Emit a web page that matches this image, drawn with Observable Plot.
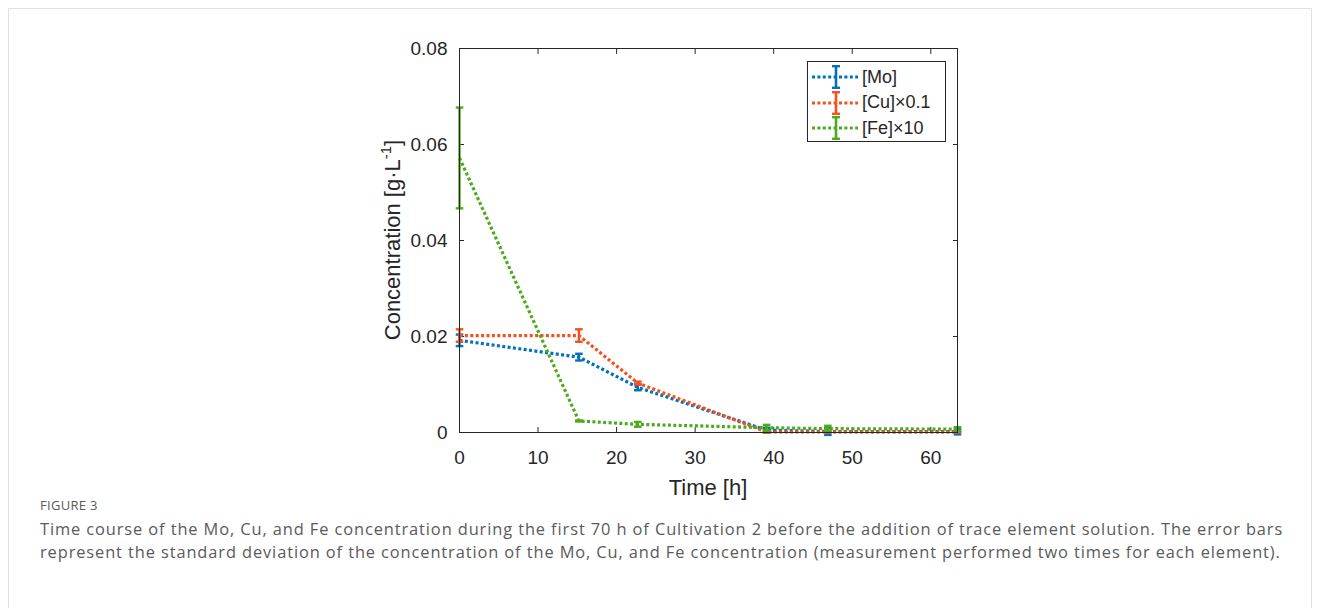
<!DOCTYPE html>
<html><head><meta charset="utf-8">
<script src="https://cdn.jsdelivr.net/npm/d3@7"></script>
<script src="https://cdn.jsdelivr.net/npm/@observablehq/plot@0.6"></script>
<style>
body{margin:0;background:#fff;font-family:"Liberation Sans",Arial,sans-serif;}
#wrap{position:relative;width:1319px;height:608px;overflow:hidden;background:#fff;}
#frame{position:absolute;left:8px;top:8px;width:1302px;height:660px;border:1px solid #e2e2e2;}
#chart{position:absolute;left:0;top:0;}
#legend{position:absolute;left:807px;top:61px;width:137px;height:79px;border:1px solid #262626;background:#fff;}
.lrow{position:absolute;left:0;height:26px;display:flex;align-items:center;}
.lrow svg{display:block;}
.lrow span{font-family:"Liberation Sans",Arial,sans-serif;font-size:18px;color:#262626;margin-left:2px;white-space:nowrap;}
#caption{position:absolute;left:40px;top:496px;width:1270px;color:#5a5a5a;font-family:"Open Sans",sans-serif;}
#caption .fig{font-size:13px;letter-spacing:0.3px;margin-bottom:4px;}
#caption .txt{font-size:16.4px;line-height:22.5px;letter-spacing:0.9px;white-space:nowrap;}
</style>
</head><body>
<div id="wrap">
<div id="frame"></div>
<div id="chart"></div>
<div id="legend"></div>
<div id="caption">
<div class="fig">FIGURE 3</div>
<div class="txt">Time course of the Mo, Cu, and Fe concentration during the first 70 h of Cultivation 2 before the addition of trace element solution. The error bars<br>represent the standard deviation of the concentration of the Mo, Cu, and Fe concentration (measurement performed two times for each element).</div>
</div>
</div>
<script>
// ---- data ----
const times = [0, 15.2, 22.7, 39.1, 46.9, 63.4];
const moVals = [0.0192, 0.0157, 0.0094, 0.0005, 0.0002, 0.0002];
const moErr  = [0.0012, 0.0007, 0.0006, 0.0005, 0.0007, 0.0006];
const cuVals = [0.0202, 0.0202, 0.0103, 0.0001, 0.0001, 0.0001];
const cuErr  = [0.0013, 0.0013, 0.0003, 0.0001, 0.0001, 0.0001];
const feVals = [0.0572, 0.0024, 0.0017, 0.0010, 0.0008, 0.0007];
const feErr  = [0.0105, 0.0001, 0.0005, 0.0006, 0.0006, 0.0004];
const seriesNames = ["[Mo]", "[Cu]×0.1", "[Fe]×10"];
const seriesColors = ["#0072BD", "#F4511E", "#4DAA1A"];
const xTicks = [0, 10, 20, 30, 40, 50, 60];
const yTicks = [0, 0.02, 0.04, 0.06, 0.08];
const xLabel = "Time [h]";
const yLabel = "Concentration [g·L";
const yLabelSup = "-1";

const valueSets = [moVals, cuVals, feVals];
const errSets = [moErr, cuErr, feErr];
const rows = [];
valueSets.forEach((vals, s) => vals.forEach((v, i) => rows.push({
  series: seriesNames[s], t: times[i], v, lo: v - errSets[s][i], hi: v + errSets[s][i]
})));
const caps = rows.flatMap(d => [{series: d.series, t: d.t, y: d.lo}, {series: d.series, t: d.t, y: d.hi}]);

const capSymbol = {draw(ctx, size) { const w = Math.sqrt(size / Math.PI); ctx.moveTo(-w, 0); ctx.lineTo(w, 0); }};

const seriesMarks = seriesNames.flatMap((name, s) => {
  const data = rows.filter(d => d.series === name);
  const cdata = caps.filter(d => d.series === name);
  const c = seriesColors[s];
  return [
    Plot.line(data, {x: "t", y: "v", stroke: c, strokeWidth: 3.2, strokeDasharray: "3 2.4", strokeLinecap: "butt", strokeLinejoin: "miter"}),
    Plot.ruleX(data, {x: "t", y1: "lo", y2: "hi", stroke: c, strokeWidth: 2.4, strokeLinecap: "butt"}),
    Plot.dot(cdata, {x: "t", y: "y", symbol: capSymbol, r: 3.8, stroke: c, strokeWidth: 2.4, fill: "none"})
  ];
});

const plot = Plot.plot({
  width: 1319, height: 500,
  marginLeft: 459, marginRight: 362, marginTop: 48, marginBottom: 68,
  style: {fontFamily: "Liberation Sans, Arial, sans-serif", fontSize: "19px", color: "#262626", background: "transparent", overflow: "visible"},
  x: {domain: [0, 63.4], label: null},
  y: {domain: [0, 0.08], label: null},
  marks: [
    Plot.axisX({anchor: "bottom", ticks: xTicks, tickSize: -5, tickPadding: 23, label: null, tickFormat: d => String(d), stroke: "#262626"}),
    Plot.axisX({anchor: "top", ticks: xTicks, tickSize: -5, fill: "none", label: null, stroke: "#262626"}),
    Plot.axisY({anchor: "left", ticks: yTicks, tickSize: -5, tickPadding: 17, label: null, tickFormat: d => d === 0 ? "0" : d.toFixed(2), stroke: "#262626"}),
    Plot.axisY({anchor: "right", ticks: yTicks, tickSize: -5, fill: "none", label: null, stroke: "#262626"}),
    ...seriesMarks,
    Plot.frame({stroke: "#262626", strokeWidth: 1})
  ]
});
document.getElementById("chart").appendChild(plot);

// axis labels
const svg = d3.select(plot);
const xr = plot.scale("x").range, yr = plot.scale("y").range;
const xMid = (xr[0] + xr[1]) / 2, yMid = (yr[0] + yr[1]) / 2;
svg.append("text").attr("x", xMid).attr("y", yr[0] + 63).attr("text-anchor", "middle")
  .attr("font-size", 22).attr("fill", "#262626").attr("font-family", "Liberation Sans, Arial, sans-serif").text(xLabel);
const yl = svg.append("text").attr("transform", `translate(${xr[0] - 59},${yMid}) rotate(-90)`)
  .attr("text-anchor", "middle").attr("font-size", 22).attr("fill", "#262626").attr("font-family", "Liberation Sans, Arial, sans-serif");
yl.append("tspan").text(yLabel);
yl.append("tspan").attr("font-size", 15).attr("dy", -9).text(yLabelSup);
yl.append("tspan").attr("dy", 9).text("]");

// legend
const legend = document.getElementById("legend");
seriesNames.forEach((name, s) => {
  const row = document.createElement("div");
  row.className = "lrow";
  row.style.top = (2 + s * 25.5) + "px";
  const c = seriesColors[s];
  const ls = d3.create("svg").attr("width", 52).attr("height", 26);
  ls.append("line").attr("x1", 4).attr("x2", 50).attr("y1", 13).attr("y2", 13).attr("stroke", c).attr("stroke-width", 3).attr("stroke-dasharray", "3 2.4");
  ls.append("line").attr("x1", 28).attr("x2", 28).attr("y1", 1.5).attr("y2", 24.5).attr("stroke", c).attr("stroke-width", 2.6);
  ls.append("line").attr("x1", 24).attr("x2", 32).attr("y1", 2.2).attr("y2", 2.2).attr("stroke", c).attr("stroke-width", 2.4);
  ls.append("line").attr("x1", 24).attr("x2", 32).attr("y1", 23.8).attr("y2", 23.8).attr("stroke", c).attr("stroke-width", 2.4);
  row.appendChild(ls.node());
  const sp = document.createElement("span");
  sp.textContent = name;
  row.appendChild(sp);
  legend.appendChild(row);
});
</script>
</body></html>
